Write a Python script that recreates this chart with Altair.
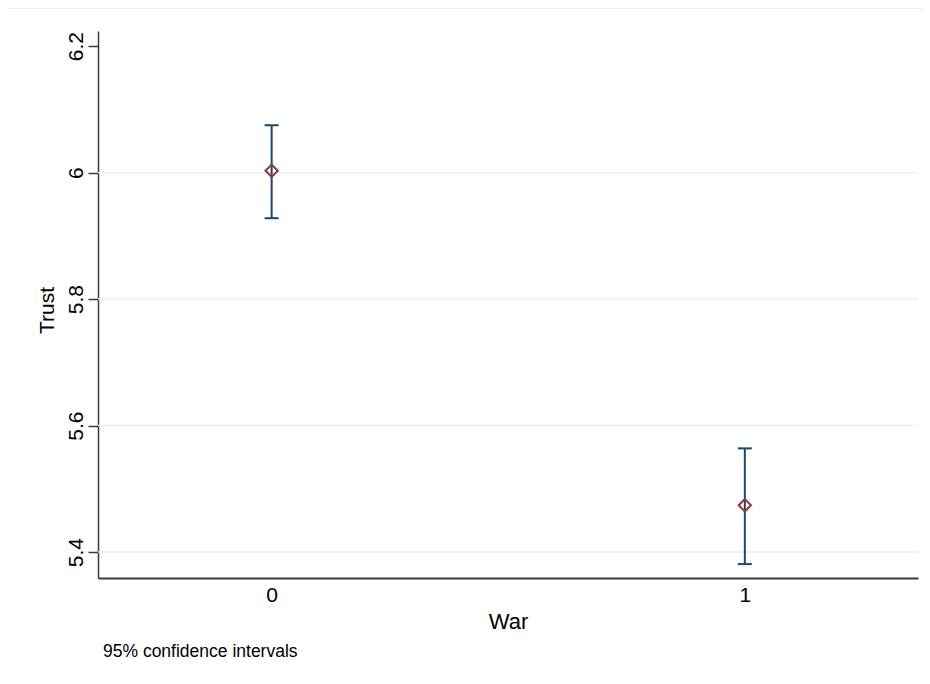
import altair as alt
import pandas as pd

# ---- data ----
war = [0, 1]
mean = [6.003, 5.474]
lower = [5.928, 5.381]
upper = [6.075, 5.564]
y_ticks = [5.4, 5.6, 5.8, 6.0, 6.2]
grid_vals = [5.4, 5.6, 5.8, 6.0]
x_ticks = [0, 1]
note = "95% confidence intervals"
x_title = "War"
y_title = "Trust"

df = pd.DataFrame({"war": war, "mean": mean, "lower": lower, "upper": upper})
grid_df = pd.DataFrame({"g": grid_vals})
note_df = pd.DataFrame({"t": [note]})
frame_df = pd.DataFrame({"a": [0]})

W, H = 820, 547
FONT = "Liberation Sans"
NAVY = "#1a476f"
MAROON = "#90353b"
AXC = "#3a3a3a"

xscale = alt.Scale(domain=[-0.367, 1.366], nice=False, zero=False)
yscale = alt.Scale(domain=[5.359, 6.224], nice=False, zero=False)

xaxis = alt.Axis(
    values=x_ticks, ticks=False, grid=False, format="d",
    labelFontSize=21, labelPadding=6, labelColor="#000", labelFont=FONT,
    domainColor=AXC, domainWidth=2,
    title=x_title, titleFontSize=22, titleFontWeight="normal", titleColor="#000",
    titleFont=FONT, titleY=50, titleBaseline="alphabetic",
)
yaxis = alt.Axis(
    values=y_ticks, grid=False, tickSize=10, tickColor=AXC, tickWidth=1.5,
    domainColor=AXC, domainWidth=1.5,
    labelAngle=270, labelAlign="center", labelBaseline="alphabetic", labelPadding=6,
    labelFontSize=21, labelColor="#000", labelFont=FONT,
    labelExpr="replace(format(datum.value, '.1f'), '.0', '')",
    title=y_title, titleFontSize=21, titleFontWeight="normal", titleColor="#000",
    titleFont=FONT, titleAngle=270, titleX=-45, titleY=279,
    titleAlign="center", titleBaseline="alphabetic",
)

frame = alt.Chart(frame_df).mark_rect(
    fill="transparent", stroke="#e3eaee", strokeWidth=1.5
).encode(x=alt.value(-92), x2=alt.value(1200), y=alt.value(-23), y2=alt.value(1000))

grid = alt.Chart(grid_df).mark_rule(color="#e6eff1", strokeWidth=1.5).encode(
    y=alt.Y("g:Q", scale=yscale, axis=yaxis)
)

bars = alt.Chart(df).mark_rule(color=NAVY, strokeWidth=2).encode(
    x=alt.X("war:Q", scale=xscale, axis=xaxis),
    y=alt.Y("lower:Q", scale=yscale, axis=yaxis),
    y2="upper:Q",
)

cap_hi = alt.Chart(df).mark_tick(orient="horizontal", size=14, thickness=2, color=NAVY, opacity=1).encode(
    x=alt.X("war:Q", scale=xscale), y=alt.Y("upper:Q", scale=yscale)
)
cap_lo = alt.Chart(df).mark_tick(orient="horizontal", size=14, thickness=2, color=NAVY, opacity=1).encode(
    x=alt.X("war:Q", scale=xscale), y=alt.Y("lower:Q", scale=yscale)
)

pts = alt.Chart(df).mark_point(
    shape="diamond", filled=False, size=150, strokeWidth=2, color=MAROON, opacity=1
).encode(x=alt.X("war:Q", scale=xscale), y=alt.Y("mean:Q", scale=yscale))

txt = alt.Chart(note_df).mark_text(
    align="left", baseline="alphabetic", fontSize=17.5, font=FONT, color="#000"
).encode(text="t:N", x=alt.value(5), y=alt.value(626))

chart = alt.layer(frame, grid, bars, cap_hi, cap_lo, pts, txt).properties(
    width=W, height=H,
    autosize=alt.AutoSizeParams(type="none"),
    padding={"left": 90, "top": 23, "right": 4, "bottom": 95},
    background="white",
).configure_view(stroke="transparent")

chart.save("out.html", embed_options={"renderer": "svg", "actions": False})
